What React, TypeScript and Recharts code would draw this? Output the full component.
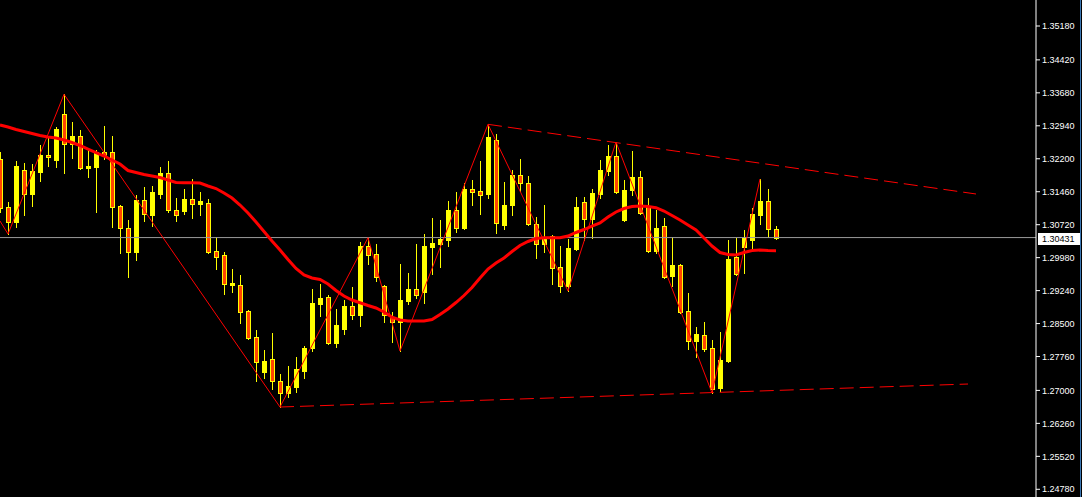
import React from "react";
import { ComposedChart, Bar, Line, XAxis, YAxis, ReferenceLine } from "recharts";

// candles, oldest first
const opens = [
  1.32194, 1.31117, 1.3078, 1.31948, 1.31409, 1.31903, 1.32284, 1.32172, 1.33205, 1.32531,
  1.32711, 1.31992, 1.32015, 1.32352, 1.32352, 1.31139, 1.30645, 1.30107, 1.31274, 1.30937,
  1.31409, 1.3188, 1.3105, 1.31027, 1.31296, 1.31184, 1.31207, 1.30129, 1.30039, 1.29366,
  1.29366, 1.28782, 1.28198, 1.27413, 1.27705, 1.27211, 1.26941, 1.27076, 1.27435, 1.27951,
  1.28939, 1.29096, 1.28064, 1.28378, 1.28894, 1.28692, 1.30241, 1.30062, 1.29343, 1.28647,
  1.28535, 1.29007, 1.29276, 1.29209, 1.30219, 1.30286, 1.30376, 1.3105, 1.30645, 1.31521,
  1.31476, 1.31409, 1.32621, 1.30713, 1.31162, 1.31835, 1.31656, 1.30735, 1.30286, 1.30466,
  1.2977, 1.29343, 1.30174, 1.31229, 1.30848, 1.31409, 1.31925, 1.32262, 1.30825, 1.31499,
  1.3179, 1.31117, 1.30129, 1.3069, 1.29568, 1.29815, 1.28782, 1.28108, 1.28243, 1.27951,
  1.27053, 1.2766, 1.29994, 1.30219, 1.30376, 1.30937, 1.31252, 1.30623,
];
const highs = [
  1.32352, 1.31229, 1.3215, 1.32105, 1.32082, 1.32509, 1.32711, 1.32913, 1.33647, 1.33025,
  1.32846, 1.32441, 1.32397, 1.32935, 1.32711, 1.31162, 1.30825, 1.31386, 1.31566, 1.31588,
  1.32015, 1.3215, 1.31319, 1.31521, 1.31745, 1.31454, 1.31296, 1.30443, 1.30107, 1.29725,
  1.2959, 1.28805, 1.28356, 1.27907, 1.28288, 1.27368, 1.27547, 1.27749, 1.27996, 1.29276,
  1.29388, 1.29141, 1.28827, 1.29029, 1.29321, 1.30331, 1.30428, 1.30286, 1.29366, 1.2876,
  1.29837, 1.29635, 1.30286, 1.30511, 1.3087, 1.30825, 1.31252, 1.31454, 1.31656, 1.31723,
  1.3215, 1.32973, 1.32756, 1.31678, 1.31948, 1.32194, 1.31813, 1.30892, 1.31162, 1.30488,
  1.30241, 1.30398, 1.31341, 1.31341, 1.31521, 1.32172, 1.32509, 1.32576, 1.31723, 1.32374,
  1.31925, 1.31319, 1.3105, 1.3087, 1.30443, 1.29837, 1.29186, 1.28423, 1.28535, 1.28131,
  1.28311, 1.30376, 1.30421, 1.30601, 1.31094, 1.31745, 1.31521, 1.3069,
];
const lows = [
  1.31005, 1.30511, 1.30668, 1.30937, 1.31139, 1.31701, 1.32037, 1.32015, 1.3188, 1.32217,
  1.3197, 1.3179, 1.31005, 1.32194, 1.30668, 1.30084, 1.29545, 1.29927, 1.30803, 1.3069,
  1.31319, 1.31005, 1.30803, 1.3096, 1.3087, 1.30937, 1.30084, 1.29725, 1.29164, 1.29209,
  1.28513, 1.28153, 1.27211, 1.27278, 1.27031, 1.26627, 1.26851, 1.26964, 1.27278, 1.27884,
  1.2867, 1.28041, 1.27974, 1.28266, 1.28602, 1.28445, 1.29837, 1.29455, 1.28535, 1.28086,
  1.27884, 1.28939, 1.29074, 1.28962, 1.29613, 1.2977, 1.30241, 1.30556, 1.30623, 1.31162,
  1.3096, 1.31319, 1.30533, 1.30623, 1.30937, 1.31476, 1.30713, 1.29972, 1.30107, 1.29388,
  1.29209, 1.29231, 1.30152, 1.30376, 1.30421, 1.31319, 1.31835, 1.31431, 1.30803, 1.31386,
  1.3096, 1.30107, 1.30084, 1.29523, 1.29343, 1.28737, 1.27929, 1.27749, 1.27884, 1.26941,
  1.26986, 1.27637, 1.2959, 1.29635, 1.30196, 1.30735, 1.30443, 1.30398,
];
const closes = [
  1.31094, 1.3078, 1.32037, 1.31409, 1.31925, 1.32284, 1.32239, 1.32868, 1.32531, 1.32711,
  1.31992, 1.32037, 1.32352, 1.32284, 1.31117, 1.30645, 1.30107, 1.31274, 1.3096, 1.31454,
  1.3188, 1.3105, 1.30937, 1.31296, 1.31184, 1.31252, 1.30107, 1.29994, 1.29388, 1.2941,
  1.2876, 1.28176, 1.27637, 1.2766, 1.27211, 1.26941, 1.27098, 1.2748, 1.27951, 1.28962,
  1.29074, 1.28064, 1.28468, 1.28894, 1.28692, 1.30241, 1.30039, 1.29545, 1.28692, 1.28535,
  1.29029, 1.29276, 1.29141, 1.30241, 1.30309, 1.30398, 1.3105, 1.30645, 1.31521, 1.31454,
  1.31386, 1.32688, 1.30758, 1.31162, 1.31835, 1.31656, 1.30735, 1.30286, 1.30421, 1.29748,
  1.29343, 1.30196, 1.31117, 1.30848, 1.31431, 1.31948, 1.32262, 1.31454, 1.31499, 1.3179,
  1.30982, 1.30129, 1.30645, 1.29545, 1.29815, 1.2876, 1.28108, 1.28266, 1.27929, 1.27031,
  1.27682, 1.29949, 1.29613, 1.30421, 1.3096, 1.31252, 1.30623, 1.30431,
];
// moving average (thick red line)
const maValues = [
  1.32958, 1.32913, 1.32857, 1.32812, 1.32767, 1.32722, 1.32688, 1.32666, 1.32621, 1.32565,
  1.32498, 1.32419, 1.3234, 1.32262, 1.32172, 1.32082, 1.31936, 1.31891, 1.31846, 1.31813,
  1.31779, 1.31723, 1.31667, 1.31662, 1.31662, 1.31656, 1.31588, 1.31532, 1.31431, 1.31319,
  1.31162, 1.30982, 1.3078, 1.30567, 1.30354, 1.30152, 1.29938, 1.29736, 1.2959, 1.29523,
  1.29489, 1.29388, 1.29242, 1.29119, 1.29029, 1.28968, 1.28906, 1.2885, 1.2876, 1.28647,
  1.2858, 1.28557, 1.28557, 1.28557, 1.28591, 1.28703, 1.28827, 1.28973, 1.2913, 1.2931,
  1.29523, 1.29725, 1.2986, 1.29972, 1.30118, 1.30253, 1.30343, 1.3041, 1.30428, 1.30428,
  1.30428, 1.30466, 1.30545, 1.30612, 1.3069, 1.30758, 1.30892, 1.31005, 1.31083, 1.31128,
  1.31139, 1.31128, 1.31101, 1.31027, 1.30926, 1.30825, 1.30713, 1.30601, 1.30421, 1.30241,
  1.30095, 1.3005, 1.30039, 1.30095, 1.3014, 1.30152, 1.3014, 1.30136,
];
// zigzag pivots: candle index and price
const zigzagIdx = [0, 1, 8, 35, 46, 50, 61, 71, 77, 89, 95];
const zigzagVals = [1.30803, 1.30511, 1.33647, 1.26627, 1.30428, 1.27884, 1.32973, 1.29231, 1.32576, 1.26941, 1.31745];
// dashed trend lines (start on a pivot, run out to the right)
const upperIdx = [61, 122];
const upperVals = [1.32973, 1.31409];
const lowerIdx = [35, 121];
const lowerVals = [1.26627, 1.27143];

const priceTicks = [
  1.3518, 1.3442, 1.3368, 1.3294, 1.322, 1.3146, 1.3072, 1.2998, 1.2924, 1.285, 1.2776, 1.27,
  1.2626, 1.2552, 1.2478,
];
const lastPrice = 1.30431;
const slots = 130;

const YELLOW = "#ffff00";
const ORANGE = "#ff4500";

const rows: any[] = [];
for (let i = 0; i < slots; i++) {
  const r: any = { i };
  if (i < opens.length) {
    r.o = opens[i];
    r.h = highs[i];
    r.l = lows[i];
    r.c = closes[i];
    r.ma = maValues[i];
  }
  rows.push(r);
}
zigzagIdx.forEach((k, j) => (rows[k].zz = zigzagVals[j]));
upperIdx.forEach((k, j) => (rows[k].up = upperVals[j]));
lowerIdx.forEach((k, j) => (rows[k].dn = lowerVals[j]));

const Candle = (props: any) => {
  const { x, y, width, height, payload } = props;
  if (!payload || payload.o == null || !isFinite(y)) return null;
  const top = Math.min(y, y + height);
  const h = Math.abs(height);
  const k = payload.h > payload.l ? h / (payload.h - payload.l) : 0;
  const yOf = (v: number) => top + (payload.h - v) * k;
  const cx = Math.floor(x + width / 2);
  const bull = payload.c >= payload.o;
  const bTop = Math.round(yOf(Math.max(payload.o, payload.c)));
  const bBot = Math.round(yOf(Math.min(payload.o, payload.c)));
  const bh = Math.max(1, bBot - bTop + 1);
  const wTop = Math.round(top);
  const wh = Math.max(1, Math.round(top + h) - wTop + 1);
  return (
    <g>
      <rect x={cx} y={wTop} width={1} height={wh} fill={YELLOW} />
      <rect x={cx - 2} y={bTop} width={5} height={bh} fill={YELLOW} />
      {!bull && bh > 2 && <rect x={cx - 1} y={bTop + 1} width={3} height={bh - 2} fill={ORANGE} />}
    </g>
  );
};

const PriceTag = (props: any) => {
  const vb = props.viewBox;
  if (!vb) return null;
  const right = vb.x + vb.width;
  const yy = Math.round(vb.y);
  return (
    <g>
      <rect x={right + 2} y={yy - 5} width={42} height={12} fill="#ffffff" />
      <text x={right + 6} y={yy + 4} fontSize={9} fontFamily="Liberation Sans" fill="#000000">
        {lastPrice.toFixed(5)}
      </text>
    </g>
  );
};

export default function App() {
  return (
    <div
      style={{
        position: "fixed",
        left: -4,
        top: 0,
        width: 1086,
        height: 497,
        background: "#000000",
        overflow: "hidden",
      }}
    >
      <ComposedChart width={1086} height={497} data={rows} margin={{ top: 0, right: 0, bottom: 0, left: 0 }}>
        <XAxis dataKey="i" hide />
        <YAxis
          orientation="right"
          width={46}
          domain={[1.24607, 1.35764]}
          allowDataOverflow
          ticks={priceTicks}
          interval={0}
          tickFormatter={(v: number) => v.toFixed(5)}
          stroke="#ffffff"
          tickSize={4}
          tickMargin={2}
          tick={{ fill: "#ffffff", fontSize: 9, fontFamily: "Liberation Sans" }}
        />
        <ReferenceLine y={lastPrice} stroke="#9a9a9a" strokeWidth={1} label={<PriceTag />} />
        <Bar
          dataKey={(d: any) => (d.o == null ? undefined : [d.l, d.h])}
          barSize={5}
          shape={<Candle />}
          activeBar={false}
          isAnimationActive={false}
        />
        <Line dataKey="ma" stroke="#ff0000" strokeWidth={3} dot={false} activeDot={false} type="linear" isAnimationActive={false} />
        <Line dataKey="zz" stroke="#ff0000" strokeWidth={1} dot={false} activeDot={false} connectNulls type="linear" isAnimationActive={false} />
        <Line dataKey="up" stroke="#ff0000" strokeWidth={1} strokeDasharray="14 6" dot={false} activeDot={false} connectNulls type="linear" isAnimationActive={false} />
        <Line dataKey="dn" stroke="#ff0000" strokeWidth={1} strokeDasharray="14 6" dot={false} activeDot={false} connectNulls type="linear" isAnimationActive={false} />
      </ComposedChart>
      <div style={{ position: "absolute", left: 1084, top: 0, width: 1, height: 497, background: "#3c78b4" }} />
    </div>
  );
}
